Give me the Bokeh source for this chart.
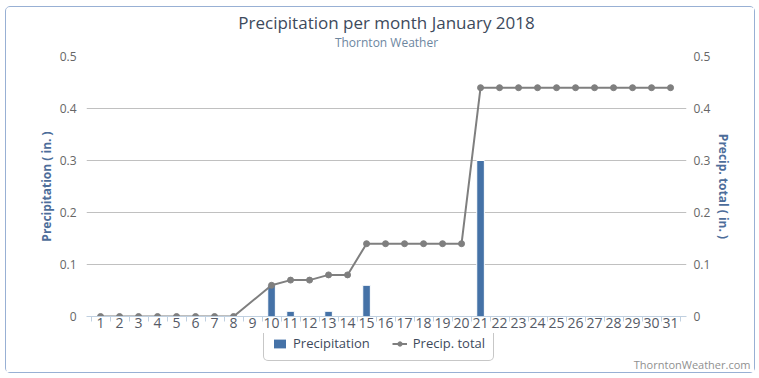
from bokeh.plotting import figure
from bokeh.layouts import column
from bokeh.models import (Range1d, LinearAxis, FixedTicker, Title, Legend, LegendItem,
                          ColumnDataSource, Label)
from bokeh.embed import file_html
from bokeh.resources import INLINE

days = list(range(1, 32))
precip = [0, 0, 0, 0, 0, 0, 0, 0, 0, 0.06, 0.01, 0, 0.01, 0, 0.06, 0, 0, 0, 0, 0,
          0.30, 0, 0, 0, 0, 0, 0, 0, 0, 0, 0]
total_days = [1, 2, 3, 4, 5, 6, 7, 8, 10, 11, 12, 13, 14, 15, 16, 17, 18, 19, 20, 21,
              22, 23, 24, 25, 26, 27, 28, 29, 30, 31]
total = [0, 0, 0, 0, 0, 0, 0, 0, 0.06, 0.07, 0.07, 0.08, 0.08, 0.14, 0.14, 0.14, 0.14,
         0.14, 0.14, 0.44, 0.44, 0.44, 0.44, 0.44, 0.44, 0.44, 0.44, 0.44, 0.44, 0.44]
y_ticks = [0, 0.1, 0.2, 0.3, 0.4, 0.5]

title_text = "Precipitation per month January 2018"
subtitle_text = "Thornton Weather"
credit_text = "ThorntonWeather.com"

FONT = "Open Sans"
BAR_COLOR = "#4572a7"
LINE_COLOR = "#7f7f7f"
TEXT_COLOR = "#3d4a5c"
W, H1, H2 = 748, 326, 39

p = figure(width=W, height=H1, output_backend="svg", toolbar_location=None,
           x_range=Range1d(0.26, 31.84), y_range=Range1d(0, 0.5),
           min_border_left=80, min_border_right=68, min_border_top=49, min_border_bottom=17)
p.title = None
p.outline_line_color = None
p.background_fill_color = "white"
p.border_fill_color = "white"
p.extra_y_ranges = {"total": Range1d(0, 0.5)}

# grid
p.xgrid.grid_line_color = None
p.ygrid.grid_line_color = "#c0c0c0"
p.ygrid.ticker = FixedTicker(ticks=y_ticks)

# x axis
xa = p.xaxis[0]
xa.ticker = FixedTicker(ticks=days, minor_ticks=[d + 0.5 for d in range(0, 32)])
xa.axis_line_color = "#c0d0e0"
xa.major_tick_line_color = None
xa.major_tick_out = 0
xa.major_tick_in = 0
xa.minor_tick_line_color = "#c0d0e0"
xa.minor_tick_in = 0
xa.minor_tick_out = 5
xa.major_label_text_font = FONT
xa.major_label_text_font_size = "14px"
xa.major_label_text_color = "#555a66"
xa.major_label_standoff = -4


def style_y(ax, label, standoff, label_standoff):
    ax.ticker = FixedTicker(ticks=y_ticks)
    ax.major_label_overrides = {0: "0"}
    ax.axis_line_color = None
    ax.major_tick_line_color = None
    ax.major_tick_out = 0
    ax.major_tick_in = 0
    ax.minor_tick_line_color = None
    ax.minor_tick_out = 0
    ax.minor_tick_in = 0
    ax.major_label_text_font = FONT
    ax.major_label_text_font_size = "12px"
    ax.major_label_text_color = "#666666"
    ax.major_label_standoff = standoff
    ax.axis_label = label
    ax.axis_label_text_font = FONT
    ax.axis_label_text_font_size = "12px"
    ax.axis_label_text_font_style = "bold"
    ax.axis_label_text_color = "#4d6d9a"
    ax.axis_label_standoff = label_standoff


style_y(p.yaxis[0], "Precipitation ( in. )", 10, 2)
ra = LinearAxis(y_range_name="total")
style_y(ra, "Precip. total ( in. )", 7, 2)
p.add_layout(ra, "right")

# bars
p.vbar(x=days, top=precip, width=0.4, fill_color=BAR_COLOR, line_color="white", line_width=1)

# cumulative line
src = ColumnDataSource(dict(x=total_days, y=total))
p.line("x", "y", source=src, line_color=LINE_COLOR, line_width=2, y_range_name="total")
p.scatter("x", "y", source=src, size=6, fill_color=LINE_COLOR, line_color=LINE_COLOR,
          y_range_name="total")

p.add_layout(Title(text=subtitle_text, align="center", standoff=12,
                   text_font=FONT, text_font_size="12px", text_color="#6d869f",
                   text_font_style="normal"), "above")
p.add_layout(Title(text=title_text, align="center", standoff=-16,
                   text_font=FONT, text_font_size="17px", text_color=TEXT_COLOR,
                   text_font_style="normal"), "above")

# legend strip
lf = figure(width=W, height=H2, output_backend="svg", toolbar_location=None,
            x_range=Range1d(40, 41), y_range=Range1d(5, 6),
            min_border=0, min_border_left=0, min_border_right=0,
            min_border_top=0, min_border_bottom=0)
lf.title = None
lf.axis.visible = False
lf.grid.visible = False
lf.outline_line_color = None
lf.border_fill_color = "white"

try:
    lf.frame_align = False
    LEG_X, CREDIT_X = 257, 744
except Exception:
    LEG_X, CREDIT_X = 177, 664

lb = lf.vbar(x=days, top=precip, width=0.4, fill_color=BAR_COLOR, line_color=None)
lsrc = ColumnDataSource(dict(x=total_days, y=total))
ll = lf.line("x", "y", source=lsrc, line_color=LINE_COLOR, line_width=2)
lp = lf.scatter("x", "y", source=lsrc, size=6, fill_color=LINE_COLOR, line_color=LINE_COLOR)

legend = Legend(items=[LegendItem(label="Precipitation", renderers=[lb]),
                       LegendItem(label="Precip. total", renderers=[ll, lp])],
                orientation="horizontal", location=(LEG_X, 11))
legend.border_line_color = "#909090"
legend.border_radius = 5
legend.label_text_font = FONT
legend.label_text_font_size = "13px"
legend.label_text_color = TEXT_COLOR
legend.label_height = 14
legend.label_standoff = 6
legend.glyph_width = 15
legend.glyph_height = 11
legend.spacing = 22
legend.padding = 8
legend.margin = 0
lf.add_layout(legend, "center")

lf.add_layout(Label(x=CREDIT_X, y=1, x_units="screen", y_units="screen", text=credit_text,
                    text_align="right", text_baseline="bottom", text_font=FONT,
                    text_font_size="11px", text_color="#909090"))

layout = column(p, lf, spacing=0)
layout.styles = {"margin-left": "5px", "margin-top": "6px",
                 "border": "1px solid #98b0d4", "border-radius": "5px"}

open("out.html", "w").write(file_html(layout, INLINE))
